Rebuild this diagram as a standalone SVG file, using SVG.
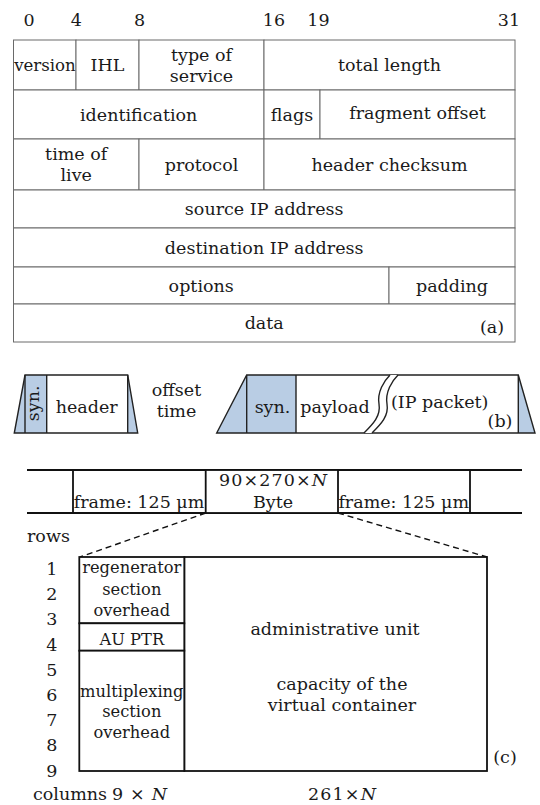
<svg xmlns="http://www.w3.org/2000/svg" width="540" height="805" viewBox="0 0 540 805">
<style>
text{font-family:"DejaVu Serif","Liberation Serif",serif;font-size:17.5px;fill:#1a1a1a;text-anchor:middle}
.a{fill:#fff;stroke:#6a6a6a;stroke-width:1}
.bl{stroke:#222;stroke-width:1.4;fill:none}
.blue{fill:#b9cde4;stroke:none}
.c{fill:#fff;stroke:#111;stroke-width:1.8}
.cl{stroke:#111;stroke-width:1.8;fill:none}
.sm{font-size:16.3px}
.it{font-style:italic}
.l{text-anchor:start}
</style>
<rect width="540" height="805" fill="#fff"/>
<g id="bits">
<text x="29" y="26">0</text><text x="76.4" y="26">4</text><text x="139.5" y="26">8</text>
<text x="274" y="26">16</text><text x="318.5" y="26">19</text><text x="509" y="26">31</text>
</g>
<g id="ip-header">
<g id="version"><rect class="a" x="13.5" y="40" width="62.5" height="50"/><text x="45" y="71" style="font-size:16.6px">version</text></g>
<g id="ihl"><rect class="a" x="76" y="40" width="63" height="50"/><text x="107.5" y="71">IHL</text></g>
<g id="tos"><rect class="a" x="139" y="40" width="125" height="50"/><text x="201.5" y="60.5">type of</text><text x="201.5" y="81.5">service</text></g>
<g id="total-length"><rect class="a" x="264" y="40" width="251" height="50"/><text x="389.5" y="71">total length</text></g>
<g id="identification"><rect class="a" x="13.5" y="90" width="250.5" height="49"/><text x="138.7" y="121">identification</text></g>
<g id="flags"><rect class="a" x="264" y="90" width="56" height="49"/><text x="292" y="121">flags</text></g>
<g id="fragment-offset"><rect class="a" x="320" y="90" width="195" height="49"/><text x="417.5" y="118.5">fragment offset</text></g>
<g id="ttl"><rect class="a" x="13.5" y="139" width="125.5" height="51"/><text x="76.2" y="160">time of</text><text x="76.2" y="181">live</text></g>
<g id="protocol"><rect class="a" x="139" y="139" width="125" height="51"/><text x="201.5" y="170.5">protocol</text></g>
<g id="checksum"><rect class="a" x="264" y="139" width="251" height="51"/><text x="389.5" y="170.5">header checksum</text></g>
<g id="source"><rect class="a" x="13.5" y="190" width="501.5" height="38"/><text x="264.2" y="215">source IP address</text></g>
<g id="destination"><rect class="a" x="13.5" y="228" width="501.5" height="39"/><text x="264.2" y="253.5">destination IP address</text></g>
<g id="options"><rect class="a" x="13.5" y="267" width="375.5" height="37"/><text x="201.2" y="291.5">options</text></g>
<g id="padding"><rect class="a" x="389" y="267" width="126" height="37"/><text x="452" y="291.5">padding</text></g>
<g id="data"><rect class="a" x="13.5" y="304" width="501.5" height="38"/><text x="264.2" y="329">data</text><text x="492" y="333">(a)</text></g>
</g>
<g id="burst-header-packet">
<polygon class="blue" points="14.3,433 25,375 46.7,375 46.7,433"/>
<polygon class="blue" points="127.7,375 137.7,433 127.7,433"/>
<polygon class="bl" points="14.3,433 25,375 127.7,375 137.7,433"/>
<path class="bl" d="M25,375V433M46.7,375V433M127.7,375V433"/>
<text transform="translate(38.5,403.3) rotate(-90)">syn.</text>
<text x="86.7" y="412.7">header</text>
</g>
<g id="offset-time"><text x="176.5" y="396">offset</text><text x="176.5" y="417">time</text></g>
<g id="data-burst">
<polygon class="blue" points="216.7,433 246.7,375 296,375 296,433"/>
<polygon class="blue" points="518.3,375 535,433 518.3,433"/>
<polygon class="bl" points="216.7,433 246.7,375 518.3,375 535,433"/>
<path class="bl" d="M246.7,375V433M296,375V433M518.3,375V433"/>
<path d="M364,433 C373,424 381,416 379,404 C377,392 384,381 390,375 L398,375 C392,381 385,392 387,404 C389,416 381,424 372,433 Z" fill="#fff" stroke="none"/>
<path class="bl" d="M364,433 C373,424 381,416 379,404 C377,392 384,381 390,375"/>
<path class="bl" d="M372,433 C381,424 389,416 387,404 C385,392 392,381 398,375"/>
<text x="272.5" y="412.7">syn.</text>
<text x="335" y="412.7">payload</text>
<text x="439.7" y="408.3">(IP packet)</text>
<text x="500" y="426.7">(b)</text>
</g>
<g id="frame-strip">
<path class="cl" d="M27,470H522M27,513H522M73,470V513M470,470V513"/>
<text x="139" y="507.5">frame: 125 μm</text>
<text x="403.7" y="507.5">frame: 125 μm</text>
</g>
<g id="frame-bytes">
<rect class="c" x="205.7" y="470" width="132.3" height="43"/>
<text x="273" y="486" textLength="108" lengthAdjust="spacing">90×270×<tspan class="it">N</tspan></text>
<text x="273" y="508">Byte</text>
</g>
<g id="connectors">
<path d="M205.7,513L80,557M338,513L487,557" stroke="#111" stroke-width="1.4" stroke-dasharray="6,4" fill="none"/>
</g>
<g id="row-labels">
<text class="l" x="27" y="542">rows</text>
<text x="51.7" y="575">1</text><text x="51.7" y="600.2">2</text><text x="51.7" y="625.4">3</text>
<text x="51.7" y="650.6">4</text><text x="51.7" y="675.8">5</text><text x="51.7" y="701">6</text>
<text x="51.7" y="726.2">7</text><text x="51.7" y="751.4">8</text><text x="51.7" y="776.6">9</text>
<text class="l" x="33" y="800">columns</text>
<text class="l" x="112" y="800" textLength="55" lengthAdjust="spacing">9×<tspan class="it">N</tspan></text>
<text class="l" x="308" y="800" textLength="68" lengthAdjust="spacing">261×<tspan class="it">N</tspan></text>
</g>
<g id="stm-frame">
<g id="admin-unit"><rect class="c" x="184.3" y="557" width="302.7" height="214"/>
<text x="335" y="635">administrative unit</text>
<text x="342" y="690">capacity of the</text>
<text x="342" y="711">virtual container</text></g>
<g id="rsoh"><rect class="c" x="79.3" y="557" width="105" height="66.3"/>
<text class="sm" x="131.8" y="573.3">regenerator</text><text class="sm" x="131.8" y="595">section</text><text class="sm" x="131.8" y="616">overhead</text></g>
<g id="au-ptr"><rect class="c" x="79.3" y="623.3" width="105" height="27.4"/><text class="sm" x="131.8" y="645">AU PTR</text></g>
<g id="msoh"><rect class="c" x="79.3" y="650.7" width="105" height="120.3"/>
<text class="sm" x="131.8" y="696.7">multiplexing</text><text class="sm" x="131.8" y="717.3">section</text><text class="sm" x="131.8" y="737.8">overhead</text></g>
<text x="505" y="763">(c)</text>
</g>
</svg>
